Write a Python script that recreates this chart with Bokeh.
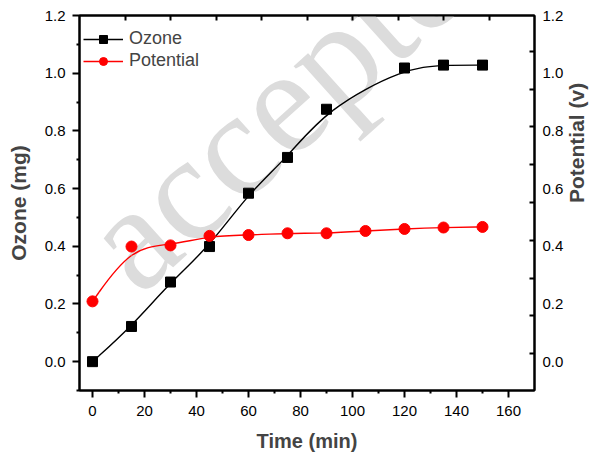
import math
from bokeh.plotting import figure
from bokeh.models import (LinearAxis, FixedTicker, Range1d, Legend, LegendItem,
                          Label, ColumnDataSource)
from bokeh.embed import file_html
from bokeh.resources import INLINE

# ---- data ----
time_ozone = [0, 15, 30, 45, 60, 75, 90, 120, 135, 150]
ozone_mg = [0.0, 0.122, 0.276, 0.399, 0.584, 0.708, 0.875, 1.018, 1.028, 1.028]

time_potential = [0, 15, 30, 45, 60, 75, 90, 105, 120, 135, 150]
potential_v = [0.209, 0.399, 0.403, 0.436, 0.439, 0.445, 0.445, 0.453, 0.460, 0.465, 0.467]

x_ticks = [0, 20, 40, 60, 80, 100, 120, 140, 160]
x_minor = [10, 30, 50, 70, 90, 110, 130, 150]
y_ticks = [0.0, 0.2, 0.4, 0.6, 0.8, 1.0, 1.2]
y_minor = [-0.1, 0.1, 0.3, 0.5, 0.7, 0.9, 1.1]
top_minor = [12.5, 30, 47.5, 65, 82.5, 100, 117.5, 135, 152.5]
right_minor = [0.03, 0.16, 0.29, 0.42, 0.552, 0.684, 0.816, 0.944, 1.076]

FONT = "Liberation Sans"


def bspline_source(xs, ys):
    """Uniform cubic B-spline (end-clamped) built from the data points,
    expressed as Bezier segments for Bokeh's bezier glyph."""
    qx = [xs[0]] * 2 + list(xs) + [xs[-1]] * 2
    qy = [ys[0]] * 2 + list(ys) + [ys[-1]] * 2
    d = dict(x0=[], y0=[], cx0=[], cy0=[], cx1=[], cy1=[], x1=[], y1=[])
    for j in range(len(qx) - 3):
        a, b, c, e = qx[j:j + 4]
        A, B, C, E = qy[j:j + 4]
        d["x0"].append((a + 4 * b + c) / 6); d["y0"].append((A + 4 * B + C) / 6)
        d["cx0"].append((2 * b + c) / 3); d["cy0"].append((2 * B + C) / 3)
        d["cx1"].append((b + 2 * c) / 3); d["cy1"].append((B + 2 * C) / 3)
        d["x1"].append((b + 4 * c + e) / 6); d["y1"].append((B + 4 * C + E) / 6)
    return ColumnDataSource(d)


p = figure(width=602, height=454, x_range=Range1d(-5, 170), y_range=Range1d(-0.1, 1.2),
           output_backend="svg", toolbar_location=None,
           min_border_left=79, min_border_right=63, min_border_top=15, min_border_bottom=63,
           background_fill_color="white", border_fill_color="white")
p.grid.visible = False
p.outline_line_color = "black"
p.outline_line_width = 2

# faint watermark of the reference
p.add_layout(Label(x=4.9, y=0.353, text="accepted", text_align="left",
                   angle=42, angle_units="deg", text_font="Liberation Serif",
                   text_font_size="150px", text_color="#dcdcdc",
                   text_baseline="alphabetic", level="underlay"))

# curves
oz_line = p.bezier(x0="x0", y0="y0", x1="x1", y1="y1", cx0="cx0", cy0="cy0",
                   cx1="cx1", cy1="cy1", source=bspline_source(time_ozone, ozone_mg),
                   line_color="black", line_width=1.4)
pot_line = p.bezier(x0="x0", y0="y0", x1="x1", y1="y1", cx0="cx0", cy0="cy0",
                    cx1="cx1", cy1="cy1", source=bspline_source(time_potential, potential_v),
                    line_color="#ff0000", line_width=1.4)
oz_pts = p.scatter(time_ozone, ozone_mg, marker="square", size=10,
                   fill_color="black", line_color="black")
pot_pts = p.scatter(time_potential, potential_v, marker="circle", size=11,
                    fill_color="#ff0000", line_color="#ff0000")


def style_axis(ax, major, minor, tin, tout, mtin, mtout):
    ax.ticker = FixedTicker(ticks=major, minor_ticks=minor)
    ax.axis_line_width = 2
    ax.axis_line_color = "black"
    ax.major_tick_line_width = 2
    ax.minor_tick_line_width = 2
    ax.major_tick_in = tin
    ax.major_tick_out = tout
    ax.minor_tick_in = mtin
    ax.minor_tick_out = mtout
    ax.major_label_text_font = FONT
    ax.major_label_text_color = "black"
    ax.major_label_text_font_size = "15px"


# bottom axis
xa = p.xaxis[0]
style_axis(xa, x_ticks, x_minor, 0, 7, 0, 3)
xa.major_label_standoff = 8
xa.axis_label = "Time (min)"
xa.axis_label_text_font = FONT
xa.axis_label_text_font_style = "bold"
xa.axis_label_text_font_size = "20px"
xa.axis_label_standoff = 11

# left axis
ya = p.yaxis[0]
style_axis(ya, y_ticks, y_minor, 0, 7, 0, 3)
ya.major_label_standoff = 7
ya.axis_label = "Ozone (mg)"
ya.axis_label_text_font = FONT
ya.axis_label_text_font_style = "bold"
ya.axis_label_text_font_size = "21px"
ya.axis_label_standoff = 12
ya.major_label_overrides = {t: f"{t:.1f}" for t in y_ticks}

# top axis (inward ticks only, no labels)
top = LinearAxis()
style_axis(top, [], top_minor, 0, 0, 5, 0)
p.add_layout(top, "above")

# right axis
ra = LinearAxis()
style_axis(ra, y_ticks, right_minor, 0, 0, 5, 0)
ra.major_label_standoff = 8
ra.major_label_overrides = {t: f"{t:.1f}" for t in y_ticks}
ra.axis_label = "Potential (v)"
ra.axis_label_text_font = FONT
ra.axis_label_text_font_style = "bold"
ra.axis_label_text_font_size = "21px"
ra.axis_label_standoff = 10
try:
    ra.axis_label_orientation = math.pi / 2
except Exception:
    pass
p.add_layout(ra, "right")

legend = Legend(items=[LegendItem(label="Ozone", renderers=[oz_line, oz_pts]),
                       LegendItem(label="Potential", renderers=[pot_line, pot_pts])],
                location=(4, 319), padding=0, margin=0, spacing=1,
                glyph_width=40, glyph_height=20, label_height=20, label_standoff=6,
                label_text_font=FONT, label_text_font_size="18px",
                background_fill_alpha=0, border_line_color=None)
p.add_layout(legend, "center")

open("out.html", "w").write(file_html(p, INLINE))
